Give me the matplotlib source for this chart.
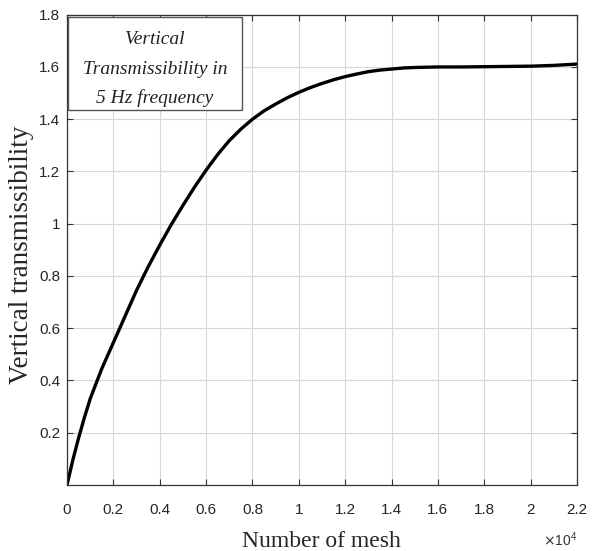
import matplotlib
matplotlib.use("Agg")
import matplotlib.pyplot as plt
from matplotlib.patches import Rectangle

# ---- data ----
mesh_count = [0, 250, 500, 750, 1000, 1500, 2000, 2500, 3000, 3500, 4000, 4500, 5000, 5500,
              6000, 6500, 7000, 7500, 8000, 8500, 9000, 9500, 10000, 10500, 11000,
              11500, 12000, 12500, 13000, 13500, 14000, 14500, 15000, 16000, 17000,
              18000, 19000, 20000, 21000, 22000]
transmissibility = [0, 0.095, 0.18, 0.258, 0.33, 0.445, 0.545, 0.645, 0.745, 0.835, 0.918, 0.997,
                    1.07, 1.14, 1.205, 1.265, 1.318, 1.362, 1.40, 1.432, 1.458,
                    1.482, 1.503, 1.521, 1.537, 1.551, 1.563, 1.573, 1.582, 1.588,
                    1.592, 1.596, 1.598, 1.600, 1.600, 1.601, 1.602, 1.603, 1.606, 1.611]
x_ticks = [0, 2000, 4000, 6000, 8000, 10000, 12000, 14000, 16000, 18000, 20000, 22000]
x_tick_labels = ["0", "0.2", "0.4", "0.6", "0.8", "1", "1.2", "1.4", "1.6", "1.8", "2", "2.2"]
y_ticks = [0.2, 0.4, 0.6, 0.8, 1.0, 1.2, 1.4, 1.6, 1.8]
y_tick_labels = ["0.2", "0.4", "0.6", "0.8", "1", "1.2", "1.4", "1.6", "1.8"]
box_lines = ["Vertical", "Transmissibility in", "5 Hz frequency"]

tick_font = "Liberation Sans"
serif = "Liberation Serif"
W, H = 600, 551

fig = plt.figure(figsize=(6.0, 5.51), dpi=100)
ax = fig.add_axes([67/W, 1-485/H, (577-67)/W, (485-14.7)/H])

ax.plot(mesh_count, transmissibility, color="black", linewidth=2.4,
        solid_capstyle="round", solid_joinstyle="round")

ax.set_xlim(0, 22000)
ax.set_ylim(0, 1.8)
ax.set_xticks(x_ticks)
ax.set_xticklabels(x_tick_labels)
ax.set_yticks(y_ticks)
ax.set_yticklabels(y_tick_labels)

ax.grid(True, color="#d8d8d8", linewidth=0.8)
ax.set_axisbelow(True)
ax.tick_params(direction="in", length=4, width=0.8, color="#333333",
               top=True, right=True, labelsize=11, labelcolor="#262626")
ax.tick_params(axis="y", pad=5)
ax.tick_params(axis="x", pad=13)
for lab in ax.get_xticklabels() + ax.get_yticklabels():
    lab.set_family(tick_font)
for s in ax.spines.values():
    s.set_color("#333333")
    s.set_linewidth(0.9)

fig.text(22/W, 1-255/H, "Vertical transmissibility", family=serif, fontsize=19.5,
         rotation=90, ha="center", va="center", color="#262626")
fig.text(321/W, 1-547/H, "Number of mesh", family=serif, fontsize=17,
         ha="center", va="baseline", color="#262626")
fig.text(577/W, 1-540/H, r"$\times\mathdefault{10^{4}}$", family=tick_font,
         fontsize=10, ha="right", va="center", color="#333333")

# annotation box
ax.add_patch(Rectangle((0.002, 0.798), 0.341, 0.198, transform=ax.transAxes,
                       facecolor="white", edgecolor="#555555", linewidth=1.0, zorder=3))
for i, line in enumerate(box_lines):
    ax.text((155-67)/510, 1 - (40 + 29*i - 14.7)/470.3, line, transform=ax.transAxes,
            family=serif, style="italic", fontsize=14, ha="center", va="center",
            color="#222222", zorder=4)

fig.savefig("out.png", dpi=100)
